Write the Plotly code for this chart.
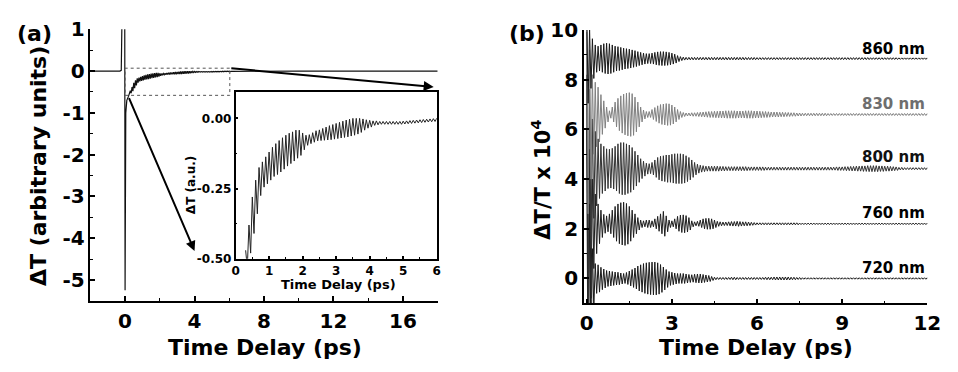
import numpy as np
import plotly.graph_objects as go

# ---------------- DATA ----------------
# Panel (a): main transient (before the oscillatory part)
t_a_pre = [-2.0, -0.3, -0.22, -0.17, -0.02, 0.0, 0.04, 0.1, 0.2]
y_a_pre = [0.0, 0.0, 0.02, 1.5, 1.5, -5.25, -1.0, -0.7, -0.6]
# Panel (a): long-time tail
t_a_tail = [6.1, 10.0, 18.0]
y_a_tail = [-0.005, 0.0, 0.0]

# Inset: centre value and oscillation half-amplitude, sampled every 0.1 ps (0.3 .. 6.0 ps)
t_in = [round(0.3 + 0.1 * i, 2) for i in range(58)]
c_in = [-0.50, -0.43, -0.345, -0.28, -0.225, -0.20, -0.185,
        -0.17, -0.155, -0.145, -0.135, -0.125, -0.115, -0.107, -0.10, -0.092, -0.087,
        -0.082, -0.078, -0.074, -0.068, -0.062, -0.060, -0.057, -0.054, -0.051, -0.048,
        -0.045, -0.042, -0.039, -0.036, -0.033, -0.030, -0.028, -0.025, -0.022, -0.020,
        -0.019, -0.017, -0.016, -0.016, -0.016, -0.016, -0.016, -0.016, -0.016, -0.016,
        -0.015, -0.014, -0.013, -0.012, -0.011, -0.010, -0.009, -0.008, -0.007, -0.006,
        -0.005]
a_in = [0.03, 0.05, 0.065, 0.06, 0.05, 0.045, 0.048,
        0.05, 0.052, 0.055, 0.056, 0.056, 0.055, 0.054, 0.052, 0.05, 0.045,
        0.03, 0.018, 0.016, 0.017, 0.018, 0.019, 0.021, 0.023, 0.025, 0.026,
        0.027, 0.028, 0.029, 0.03, 0.03, 0.03, 0.028, 0.025, 0.02, 0.015,
        0.012, 0.008, 0.007, 0.005, 0.005, 0.005, 0.005, 0.005, 0.005, 0.005,
        0.005, 0.005, 0.005, 0.005, 0.005, 0.005, 0.005, 0.005, 0.005, 0.005,
        0.005]

# Panel (b): envelopes (half-amplitude, ΔT/T x 1e4) every 0.1 ps from 0 to 12 ps
t_b = [round(0.1 * i, 2) for i in range(121)]
wavelengths = ["720 nm", "760 nm", "800 nm", "830 nm", "860 nm"]
baselines = [0.0, 2.2, 4.42, 6.6, 8.85]
label_y = [0.41, 2.64, 4.87, 7.03, 9.24]
colors = ["#1a1a1a", "#1e1e1e", "#333333", "#808080", "#1a1a1a"]
label_colors = ["#000000", "#000000", "#111111", "#6e6e6e", "#000000"]

A720 = [6.0, 3.0, 1.2, 0.6, 0.55, 0.45, 0.38, 0.32, 0.3, 0.28,
        0.26, 0.25, 0.22, 0.2, 0.24, 0.3, 0.36, 0.42, 0.5, 0.55,
        0.6, 0.63, 0.65, 0.66, 0.66, 0.63, 0.56, 0.46, 0.36, 0.28,
        0.25, 0.22, 0.2, 0.2, 0.2, 0.18, 0.16, 0.15, 0.17, 0.18,
        0.18, 0.16, 0.14, 0.12, 0.08, 0.05, 0.04, 0.04, 0.04, 0.04,
        0.04, 0.05, 0.05, 0.04, 0.04, 0.04, 0.04, 0.04, 0.04, 0.04,
        0.04, 0.04, 0.04, 0.05, 0.05, 0.05, 0.06, 0.06, 0.06, 0.06,
        0.06, 0.06, 0.05, 0.05, 0.04, 0.04, 0.03, 0.03, 0.03, 0.03,
        0.03, 0.03, 0.03, 0.03, 0.03, 0.03, 0.03, 0.03, 0.03, 0.03,
        0.03, 0.03, 0.03, 0.03, 0.03, 0.03, 0.03, 0.03, 0.03, 0.03,
        0.03, 0.03, 0.03, 0.03, 0.03, 0.03, 0.03, 0.03, 0.03, 0.03,
        0.03, 0.03, 0.03, 0.03, 0.03, 0.03, 0.03, 0.03, 0.03, 0.03,
        0.03]
A760 = [6.0, 3.0, 1.8, 1.2, 0.8, 0.55, 0.38, 0.32, 0.4, 0.55,
        0.7, 0.8, 0.85, 0.87, 0.82, 0.7, 0.55, 0.4, 0.25, 0.15,
        0.12, 0.15, 0.15, 0.12, 0.2, 0.3, 0.4, 0.5, 0.32, 0.15,
        0.12, 0.2, 0.3, 0.35, 0.36, 0.33, 0.25, 0.12, 0.08, 0.1,
        0.15, 0.2, 0.22, 0.22, 0.2, 0.15, 0.1, 0.08, 0.07, 0.07,
        0.08, 0.09, 0.09, 0.1, 0.09, 0.08, 0.08, 0.07, 0.06, 0.05,
        0.04, 0.04, 0.04, 0.04, 0.04, 0.04, 0.04, 0.04, 0.04, 0.04,
        0.04, 0.04, 0.04, 0.04, 0.04, 0.03, 0.03, 0.03, 0.03, 0.03,
        0.03, 0.03, 0.03, 0.03, 0.03, 0.03, 0.03, 0.03, 0.03, 0.03,
        0.03, 0.03, 0.03, 0.03, 0.03, 0.03, 0.03, 0.03, 0.03, 0.03,
        0.03, 0.03, 0.03, 0.03, 0.03, 0.03, 0.03, 0.03, 0.03, 0.03,
        0.03, 0.03, 0.03, 0.03, 0.03, 0.03, 0.03, 0.03, 0.03, 0.03,
        0.03]
A800 = [5.5, 3.2, 2.0, 1.5, 1.2, 1.0, 0.9, 0.8, 0.78, 0.82,
        0.9, 1.0, 1.05, 1.05, 1.0, 0.95, 0.85, 0.7, 0.55, 0.4,
        0.3, 0.22, 0.2, 0.25, 0.35, 0.45, 0.5, 0.52, 0.55, 0.55,
        0.58, 0.6, 0.6, 0.6, 0.58, 0.52, 0.45, 0.35, 0.25, 0.18,
        0.14, 0.12, 0.1, 0.1, 0.1, 0.1, 0.1, 0.09, 0.09, 0.08,
        0.08, 0.08, 0.08, 0.08, 0.08, 0.08, 0.08, 0.07, 0.07, 0.07,
        0.07, 0.07, 0.07, 0.06, 0.06, 0.06, 0.06, 0.06, 0.06, 0.06,
        0.06, 0.06, 0.06, 0.06, 0.06, 0.06, 0.06, 0.06, 0.06, 0.06,
        0.06, 0.06, 0.06, 0.06, 0.06, 0.06, 0.06, 0.06, 0.07, 0.07,
        0.07, 0.08, 0.08, 0.09, 0.09, 0.1, 0.1, 0.11, 0.11, 0.12,
        0.12, 0.12, 0.12, 0.11, 0.11, 0.1, 0.1, 0.09, 0.08, 0.07,
        0.05, 0.05, 0.04, 0.04, 0.04, 0.04, 0.04, 0.04, 0.04, 0.04,
        0.04]
A830 = [4.0, 2.6, 1.6, 1.3, 1.1, 0.8, 0.55, 0.3, 0.15, 0.3,
        0.5, 0.65, 0.75, 0.82, 0.86, 0.88, 0.84, 0.7, 0.5, 0.3,
        0.18, 0.12, 0.12, 0.2, 0.28, 0.35, 0.4, 0.42, 0.44, 0.43,
        0.38, 0.3, 0.2, 0.12, 0.08, 0.06, 0.06, 0.07, 0.07, 0.08,
        0.09, 0.1, 0.11, 0.12, 0.12, 0.13, 0.13, 0.14, 0.14, 0.15,
        0.15, 0.15, 0.15, 0.14, 0.14, 0.14, 0.15, 0.15, 0.15, 0.14,
        0.14, 0.13, 0.12, 0.12, 0.11, 0.1, 0.1, 0.1, 0.09, 0.09,
        0.08, 0.08, 0.07, 0.07, 0.06, 0.06, 0.05, 0.05, 0.05, 0.05,
        0.05, 0.05, 0.05, 0.05, 0.05, 0.04, 0.04, 0.04, 0.04, 0.04,
        0.04, 0.04, 0.04, 0.04, 0.04, 0.04, 0.04, 0.04, 0.04, 0.04,
        0.04, 0.04, 0.04, 0.04, 0.04, 0.04, 0.04, 0.04, 0.04, 0.04,
        0.04, 0.04, 0.04, 0.04, 0.04, 0.04, 0.04, 0.04, 0.04, 0.04,
        0.04]
A860 = [1.8, 1.2, 0.8, 0.55, 0.5, 0.55, 0.6, 0.62, 0.6, 0.55,
        0.5, 0.48, 0.45, 0.42, 0.4, 0.38, 0.35, 0.32, 0.28, 0.25,
        0.22, 0.2, 0.2, 0.22, 0.25, 0.27, 0.28, 0.28, 0.27, 0.25,
        0.22, 0.18, 0.12, 0.08, 0.06, 0.05, 0.05, 0.05, 0.05, 0.05,
        0.05, 0.05, 0.05, 0.05, 0.05, 0.05, 0.05, 0.05, 0.05, 0.05,
        0.05, 0.05, 0.05, 0.05, 0.05, 0.05, 0.045, 0.045, 0.045, 0.045,
        0.04, 0.04, 0.04, 0.04, 0.04, 0.04, 0.04, 0.04, 0.04, 0.04,
        0.04, 0.04, 0.04, 0.04, 0.04, 0.04, 0.04, 0.04, 0.04, 0.04,
        0.04, 0.04, 0.04, 0.04, 0.04, 0.04, 0.04, 0.04, 0.04, 0.04,
        0.04, 0.04, 0.04, 0.04, 0.04, 0.04, 0.04, 0.04, 0.04, 0.04,
        0.035, 0.035, 0.035, 0.035, 0.035, 0.035, 0.035, 0.035, 0.035, 0.035,
        0.03, 0.03, 0.03, 0.03, 0.03, 0.03, 0.03, 0.03, 0.03, 0.03,
        0.03]
amps_b = [A720, A760, A800, A830, A860]

# tick labels
ticks_a_x = [0, 4, 8, 12, 16]
ticks_a_y = [1, 0, -1, -2, -3, -4, -5]
ticks_a_y_text = ["1", "0", "-1", "-2", "-3", "-4", "-5"]
ticks_in_x = [0, 1, 2, 3, 4, 5, 6]
ticks_in_y = [0.0, -0.25, -0.5]
ticks_in_y_text = ["0.00", "-0.25", "-0.50"]
ticks_b_x = [0, 3, 6, 9, 12]
ticks_b_y = [0, 2, 4, 6, 8, 10]


def zigzag(times, centres, amps, half=0.05):
    xs, ys = [], []
    for ti, c, a in zip(times, centres, amps):
        xs += [ti, ti + half]
        ys += [c + a, c - a]
    return xs, ys


W, H = 958, 372
FONT = "DejaVu Sans"


def px(x):
    return x / W


def py(y):
    return 1 - y / H


fig = go.Figure()

# ---- Panel (a) main curve
zx, zy = zigzag(t_in, c_in, a_in)
fig.add_trace(go.Scatter(x=t_a_pre + zx + t_a_tail, y=y_a_pre + zy + y_a_tail,
                         mode="lines", line=dict(color="#111111", width=1.2),
                         xaxis="x", yaxis="y", hoverinfo="skip"))

# ---- Inset
fig.add_trace(go.Scatter(x=zx, y=zy, mode="lines",
                         line=dict(color="#222222", width=1),
                         xaxis="x3", yaxis="y3", hoverinfo="skip"))

# ---- Panel (b)
for name, base, amps, col in zip(wavelengths, baselines, amps_b, colors):
    bx, by = zigzag(t_b, [base] * len(t_b), amps)
    fig.add_trace(go.Scatter(x=bx, y=by, mode="lines", name=name,
                             line=dict(color=col, width=1),
                             xaxis="x2", yaxis="y2", hoverinfo="skip"))

axis_common = dict(showline=True, linecolor="black", linewidth=1.5, ticks="inside",
                   tickcolor="black", tickwidth=1.5, showgrid=False, zeroline=False)
big_tick = dict(family=FONT, size=20, color="black", weight="bold")
small_tick = dict(family=FONT, size=12, color="black", weight="bold")

fig.update_layout(
    width=W, height=H, margin=dict(l=0, r=0, t=0, b=0, pad=0),
    paper_bgcolor="white", plot_bgcolor="white", showlegend=False,
    xaxis=dict(domain=[px(88), px(442)], range=[-2, 18], anchor="y",
               tickvals=ticks_a_x, ticklen=5, tickfont=big_tick, ticklabelstandoff=1,
               minor=dict(ticks="inside", ticklen=3, tickvals=[-2, 2, 6, 10, 14, 18],
                          tickcolor="black", tickwidth=1.2),
               **axis_common),
    yaxis=dict(domain=[py(304.3), py(18.3)], range=[-5.5, 1], anchor="x",
               tickvals=ticks_a_y, ticktext=ticks_a_y_text, ticklen=5, tickfont=big_tick,
               minor=dict(ticks="inside", ticklen=3,
                          tickvals=[0.5, -0.5, -1.5, -2.5, -3.5, -4.5, -5.5],
                          tickcolor="black", tickwidth=1.2),
               **axis_common),
    xaxis2=dict(domain=[px(591), px(941)], range=[-0.1, 12], anchor="y2",
                tickvals=ticks_b_x, ticklen=5, tickfont=big_tick, ticklabelstandoff=1,
                minor=dict(ticks="inside", ticklen=3, tickvals=[1.5, 4.5, 7.5, 10.5],
                           tickcolor="black", tickwidth=1.2),
                **axis_common),
    yaxis2=dict(domain=[py(307), py(19)], range=[-1, 10], anchor="x2",
                tickvals=ticks_b_y, ticklen=5, tickfont=big_tick,
                minor=dict(ticks="inside", ticklen=3, tickvals=[-1, 1, 3, 5, 7, 9],
                           tickcolor="black", tickwidth=1.2),
                **axis_common),
    xaxis3=dict(domain=[px(236), px(441)], range=[0, 6], anchor="y3",
                tickvals=ticks_in_x, ticklen=3, tickfont=small_tick, mirror=True,
                minor=dict(ticks="inside", ticklen=2,
                           tickvals=[0.5, 1.5, 2.5, 3.5, 4.5, 5.5],
                           tickcolor="black", tickwidth=1),
                **axis_common),
    yaxis3=dict(domain=[py(260), py(84)], range=[-0.5, 0.095], anchor="x3",
                tickvals=ticks_in_y, ticktext=ticks_in_y_text, ticklen=3,
                tickfont=small_tick, mirror=True,
                minor=dict(ticks="inside", ticklen=2, tickvals=[-0.125, -0.375],
                           tickcolor="black", tickwidth=1),
                **axis_common),
)

# dotted zoom rectangle in panel (a)
fig.add_shape(type="rect", xref="x", yref="y", x0=0.0, x1=6.03, y0=-0.58, y1=0.07,
              line=dict(color="#555555", width=1, dash="dot"))

# arrows in panel (a)
fig.add_annotation(xref="x", yref="y", axref="x", ayref="y", x=4.0, y=-4.31,
                   ax=0.19, ay=-0.61, text="", showarrow=True, arrowhead=2,
                   arrowsize=1, arrowwidth=2, arrowcolor="black")
fig.add_annotation(xref="x", yref="y", axref="x", ayref="y", x=17.77, y=-0.38,
                   ax=6.03, ay=0.07, text="", showarrow=True, arrowhead=2,
                   arrowsize=1, arrowwidth=2, arrowcolor="black")

# wavelength labels
for name, ly, lc in zip(wavelengths, label_y, label_colors):
    fig.add_annotation(xref="x2", yref="y2", x=12, y=ly, text=name, showarrow=False,
                       xanchor="right", yanchor="middle",
                       font=dict(family=FONT, size=15, color=lc, weight="bold"))

title_font = dict(family=FONT, size=22, color="black", weight="bold")
# (text, x px, y px, angle, font, yanchor)
texts = [
    ("(a)", 31, 23, 0, title_font, "middle"),
    ("(b)", 533, 23, 0, title_font, "middle"),
    ("ΔT (arbitrary units)", 35, 162, -90, title_font, "middle"),
    ("Time Delay (ps)", 266, 339, 0, title_font, "top"),
    ("ΔT/T x 10<sup>4</sup>", 547, 177, -90,
     dict(family=FONT, size=21, color="black", weight="bold"), "middle"),
    ("Time Delay (ps)", 766, 339, 0, title_font, "top"),
    ("Time Delay (ps)", 341, 287, 0,
     dict(family=FONT, size=13, color="black", weight="bold"), "middle"),
    ("ΔT (a.u.)", 190, 182, -90,
     dict(family=FONT, size=12, color="black", weight="bold"), "middle"),
]
for txt, x, y, ang, f, ya in texts:
    fig.add_annotation(xref="paper", yref="paper", x=px(x), y=py(y), text=txt,
                       showarrow=False, textangle=ang, xanchor="center",
                       yanchor=ya, font=f, borderpad=0)

fig.write_html("out.html")
